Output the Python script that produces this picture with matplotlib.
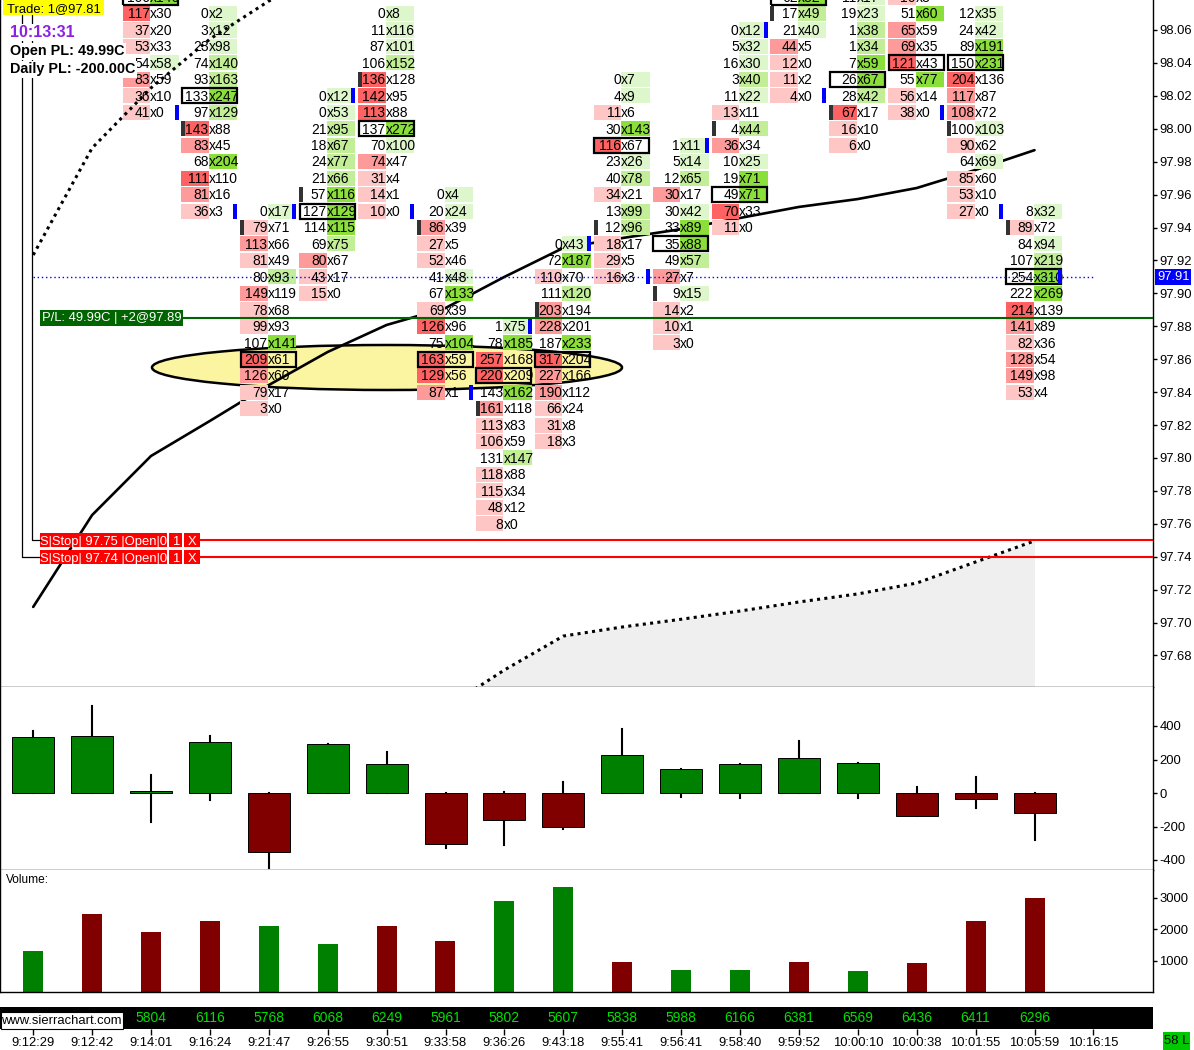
import matplotlib
matplotlib.use("Agg")
import matplotlib.pyplot as plt
from matplotlib.patches import Rectangle, Ellipse
from matplotlib import transforms
import numpy as np

plt.rcParams['font.family'] = ['Liberation Sans', 'DejaVu Sans']

# ---------------------------------------------------------------- DATA
TIME_LABELS = ["9:12:29", "9:12:42", "9:14:01", "9:16:24", "9:21:47", "9:26:55",
               "9:30:51", "9:33:58", "9:36:26", "9:43:18", "9:55:41", "9:56:41",
               "9:58:40", "9:59:52", "10:00:10", "10:00:38", "10:01:55", "10:05:59",
               "10:16:15"]
BAR_TOTALS = [None, None, 5804, 6116, 5768, 6068, 6249, 5961, 5802, 5607,
              5838, 5988, 6166, 6381, 6569, 6436, 6411, 6296]
VOLUME = [1300, 2480, 1905, 2254, 2095, 1524, 2095, 1619, 2889, 3333,
          952, 698, 698, 952, 667, 920, 2254, 2984]
BAR_OPEN = [98.12, 98.15, 98.12, 98.00, 97.94, 97.96, 98.03, 97.94, 97.83, 97.89,
            97.94, 97.90, 98.00, 98.07, 98.01, 98.09, 98.00, 97.94]
BAR_CLOSE = [98.15, 98.13, 98.01, 97.95, 97.95, 98.02, 97.95, 97.84, 97.88, 97.93,
             97.91, 97.99, 98.06, 98.02, 98.09, 98.01, 97.95, 97.91]

DELTA_OPEN = [0, 0, 0, 0, 0, 0, 0, 0, 0, 0, 0, 0, 0, 0, 0, 0, 0, 0]
DELTA_CLOSE = [334, 340, 10, 305, -352, 293, 173, -304, -161, -203,
               227, 143, 173, 209, 179, -137, -36, -120]
DELTA_HIGH = [370, 519, 107, 340, 0, 293, 245, 0, 6, 66,
              382, 143, 173, 310, 179, 36, 96, 0]
DELTA_LOW = [0, 0, -173, -42, -448, 0, 0, -328, -310, -215,
             0, -24, -30, 0, -30, -137, -90, -281]

MID_LINE = [97.7095, 97.7653, 97.8012, 97.8225, 97.8443, 97.8644, 97.8808, 97.8911,
            97.9100, 97.9276, 97.9336, 97.9390, 97.9458, 97.9525, 97.9573, 97.9640,
            97.9750, 97.9870]
UPPER_BAND = [97.9233, 97.9883, 98.0248, 98.0545, 98.0776, 98.0950, np.nan, np.nan,
              np.nan, np.nan, np.nan, np.nan, np.nan, np.nan, np.nan, np.nan, np.nan, np.nan]
LOWER_BAND = [np.nan, np.nan, np.nan, np.nan, np.nan, np.nan, 97.620, 97.648,
              97.6712, 97.6918, 97.6973, 97.7020, 97.7070, 97.7125, 97.7174, 97.7240,
              97.7368, 97.7496]

FP_TOP = [None, None, 98.08, 98.07, 97.95, 98.02, 98.07, 97.96, 97.88, 97.93,
          98.03, 97.99, 98.06, 98.08, 98.08, 98.08, 98.07, 97.95]
FP_BID = [
    [], [],
    [100, 117, 37, 53, 54, 83, 36, 41],
    [0, 3, 23, 74, 93, 133, 97, 143, 83, 68, 111, 81, 36],
    [0, 79, 113, 81, 80, 149, 78, 99, 107, 209, 126, 79, 3],
    [0, 0, 21, 18, 24, 21, 57, 127, 114, 69, 80, 43, 15],
    [0, 11, 87, 106, 136, 142, 113, 137, 70, 74, 31, 14, 10],
    [0, 20, 86, 27, 52, 41, 67, 69, 126, 75, 163, 129, 87],
    [1, 78, 257, 220, 143, 161, 113, 106, 131, 118, 115, 48, 8],
    [0, 72, 110, 111, 203, 228, 187, 317, 227, 190, 66, 31, 18],
    [0, 4, 11, 30, 116, 23, 40, 34, 13, 12, 18, 29, 16],
    [1, 5, 12, 30, 30, 33, 35, 49, 27, 9, 14, 10, 3],
    [0, 5, 16, 3, 11, 13, 4, 36, 10, 19, 49, 70, 11],
    [62, 17, 21, 44, 12, 11, 4],
    [11, 19, 1, 1, 7, 26, 28, 67, 16, 6],
    [16, 51, 65, 69, 121, 55, 56, 38],
    [12, 24, 89, 150, 204, 117, 108, 100, 90, 64, 85, 53, 27],
    [8, 89, 84, 107, 254, 222, 214, 141, 82, 128, 149, 53],
]
FP_ASK = [
    [], [],
    [146, 30, 20, 33, 58, 59, 10, 0],
    [2, 12, 98, 140, 163, 247, 129, 88, 45, 204, 110, 16, 3],
    [17, 71, 66, 49, 93, 119, 68, 93, 141, 61, 60, 17, 0],
    [12, 53, 95, 67, 77, 66, 116, 129, 115, 75, 67, 17, 0],
    [8, 116, 101, 152, 128, 95, 88, 272, 100, 47, 4, 1, 0],
    [4, 24, 39, 5, 46, 48, 133, 39, 96, 104, 59, 56, 1],
    [75, 185, 168, 209, 162, 118, 83, 59, 147, 88, 34, 12, 0],
    [43, 187, 70, 120, 194, 201, 233, 204, 166, 112, 24, 8, 3],
    [7, 9, 6, 143, 67, 26, 78, 21, 99, 96, 17, 5, 3],
    [11, 14, 65, 17, 42, 89, 88, 57, 7, 15, 2, 1, 0],
    [12, 32, 30, 40, 22, 11, 44, 34, 25, 71, 71, 33, 0],
    [82, 49, 40, 5, 0, 2, 0],
    [17, 23, 38, 34, 59, 67, 42, 17, 10, 0],
    [8, 60, 59, 35, 43, 77, 14, 0],
    [35, 42, 191, 231, 136, 87, 72, 103, 62, 69, 60, 10, 0],
    [32, 72, 94, 219, 310, 269, 139, 89, 36, 54, 98, 4],
]

PRICE_TICKS = [98.06, 98.04, 98.02, 98.00, 97.98, 97.96, 97.94, 97.92, 97.90, 97.88,
               97.86, 97.84, 97.82, 97.80, 97.78, 97.76, 97.74, 97.72, 97.70, 97.68]
DELTA_TICKS = [400, 200, 0, -200, -400]
VOLUME_TICKS = [1000, 2000, 3000]
TICK_SIZE = 0.01
LAST_PRICE = 97.91
POSITION_PRICE = 97.885
POSITION_LABEL = "P/L: 49.99C | +2@97.89"
STOP_PRICES = [97.75, 97.74]
TRADE_TEXT = "Trade: 1@97.81"
CLOCK_TEXT = "10:13:31"
OPEN_PL_TEXT = "Open PL: 49.99C"
DAILY_PL_TEXT = "Daily PL: -200.00C"

# ---------------------------------------------------------------- LAYOUT
W, H = 1194, 1050
PLOT_R = 1153
MAIN_B = 687
CANDLE_B = 870
VOL_B = 992
BAND_T, BAND_B = 1007, 1029
X0_PX = 33.2
BAR_PX = 58.9
Y_REF_PRICE, Y_REF_PX, PX_PER_PRICE = 98.06, 30.0, 1646.0
DELTA_ZERO_PX, DELTA_PER_PX = 793.0, 200 / 33.5
VOL_PER_PX = 1000 / 31.5
FS = 9.4
FS_FP = 10.0

RED = ['#FFC6C6', '#FF9A9A', '#FF6262']
GREEN = ['#DDF6CC', '#C2EE98', '#8ADF3A']
UP_C, DN_C = '#008000', '#800000'


def bw(px):
    return px / BAR_PX


def bx(px):
    return (px - X0_PX) / BAR_PX


def ph(px):
    return px / PX_PER_PRICE


def price_px(p):
    return Y_REF_PX + (Y_REF_PRICE - p) * PX_PER_PRICE


def level(v, vmax):
    r = v / vmax if vmax else 0
    return 2 if r >= 0.75 else (1 if r >= 0.5 else 0)


fig = plt.figure(figsize=(W / 100, H / 100), dpi=100)
fig.patch.set_facecolor('white')


def add_px_axes(x0, y0, x1, y1, **kw):
    return fig.add_axes([x0 / W, 1 - y1 / H, (x1 - x0) / W, (y1 - y0) / H], **kw)


XL = (-X0_PX / BAR_PX, (PLOT_R - X0_PX) / BAR_PX)
n_bars = len(VOLUME)
xs = np.arange(n_bars)


def style_axes(a):
    a.set_xlim(*XL)
    a.set_xticks([])
    a.spines['top'].set_visible(False)
    for s in ['left', 'right', 'bottom']:
        a.spines[s].set_linewidth(1.0)
        a.spines[s].set_color('black')
    a.yaxis.tick_right()
    a.tick_params(axis='y', direction='out', length=3, width=1, pad=1.5,
                  labelsize=FS, colors='black')


# ---------------------------------------------------------------- MAIN PANEL
ax = add_px_axes(0, 0, PLOT_R, MAIN_B)
style_axes(ax)
ax.set_ylim(Y_REF_PRICE - (MAIN_B - Y_REF_PX) / PX_PER_PRICE,
            Y_REF_PRICE + Y_REF_PX / PX_PER_PRICE)
ax.set_yticks(PRICE_TICKS)
ax.set_yticklabels([f"{v:.2f}" for v in PRICE_TICKS])

ybot = ax.get_ylim()[0]
lower = np.array(LOWER_BAND)
ax.fill_between(xs, lower, ybot, where=~np.isnan(lower), color='#EFEFEF', lw=0, zorder=0.5)

ax.add_patch(Ellipse((bx(387), Y_REF_PRICE - (367.5 - Y_REF_PX) / PX_PER_PRICE),
                     bw(470), ph(45), fc='#FBF4A0', ec='black', lw=1.8, zorder=1))

ax.plot(xs, MID_LINE, color='black', lw=1.9, zorder=2, solid_capstyle='round')

ch = ph(15.0)
base_off = ph(4.8)
for i, top in enumerate(FP_TOP):
    if top is None:
        continue
    bids, asks = FP_BID[i], FP_ASK[i]
    n = len(bids)
    prices = [round(top - k * TICK_SIZE, 2) for k in range(n)]
    bmax, amax = max(bids), max(asks)
    tot = [b + a for b, a in zip(bids, asks)]
    poc = n - 1 - int(np.argmax(tot[::-1]))
    div = i - bw(1.0)
    left = i - bw(28.5)
    right = i + bw(27.5)
    for k, (p, b, a) in enumerate(zip(prices, bids, asks)):
        if b > a:
            ax.add_patch(Rectangle((left, p - ch / 2), div - left, ch,
                                   fc=RED[level(b, bmax)], ec='none', zorder=3))
        elif a > b:
            ax.add_patch(Rectangle((div, p - ch / 2), right - div, ch,
                                   fc=GREEN[level(a, amax)], ec='none', zorder=3))
        ax.text(div - bw(0.3), p - base_off, str(b), ha='right', va='baseline',
                fontsize=FS_FP, zorder=4, clip_on=True)
        ax.text(div, p - base_off, 'x' + str(a), ha='left', va='baseline',
                fontsize=FS_FP, zorder=4, clip_on=True)
    ax.add_patch(Rectangle((left + bw(0.5), prices[poc] - ch / 2), right - left - bw(1), ch,
                           fill=False, ec='black', lw=1.6, zorder=4.5))
    ax.add_patch(Rectangle((left, BAR_OPEN[i] - ch / 2), bw(4), ch,
                           fc='#333333', ec='none', zorder=4.6))
    ax.add_patch(Rectangle((right - bw(4), BAR_CLOSE[i] - ch / 2), bw(4), ch,
                           fc='#0000FF', ec='none', zorder=4.6))

ax.plot(xs, UPPER_BAND, color='black', lw=2.2, ls=(0, (1, 1.4)), zorder=5)
ax.plot(xs, LOWER_BAND, color='black', lw=2.2, ls=(0, (1, 1.4)), zorder=5)

# last price dotted line
ax.plot([0, n_bars], [LAST_PRICE, LAST_PRICE], color='#0000FF', lw=1.0,
        ls=(0, (1, 2)), zorder=5)
tr_fx = transforms.blended_transform_factory(fig.transFigure, ax.transData)
ax.text(1157 / W, LAST_PRICE, f"{LAST_PRICE:.2f}", transform=tr_fx, ha='left',
        va='center', fontsize=FS, color='white', clip_on=False, zorder=10,
        bbox=dict(fc='#0000FF', ec='none', pad=1.2))

# position line + label (box sized by its text)
ax.plot([bx(60), XL[1]], [POSITION_PRICE, POSITION_PRICE], color='#006400', lw=1.5, zorder=5)
ax.text(bx(42), POSITION_PRICE, POSITION_LABEL, ha='left', va='center',
        color='white', fontsize=FS, zorder=7,
        bbox=dict(fc='#006400', ec='none', pad=1.3))

# stop orders
for sp in STOP_PRICES:
    ax.plot([bx(200), XL[1]], [sp, sp], color='#FF0000', lw=1.5, zorder=5)
    segs = [(40, 127, f"S|Stop| {sp:.2f} |Open|0"), (169, 13, "1"), (184, 16, "X")]
    for x0, wpx, txt in segs:
        ax.add_patch(Rectangle((bx(x0), sp - ph(7)), bw(wpx), ph(14),
                               fc='#FF0000', ec='none', zorder=6))
        ax.text(bx(x0 + wpx / 2), sp - base_off, txt, ha='center', va='baseline',
                color='white', fontsize=FS, zorder=7)

# ---------------------------------------------------------------- DELTA CANDLES
axc = add_px_axes(0, MAIN_B, PLOT_R, CANDLE_B)
style_axes(axc)
axc.set_ylim(-(CANDLE_B - DELTA_ZERO_PX) * DELTA_PER_PX, (DELTA_ZERO_PX - MAIN_B) * DELTA_PER_PX)
axc.set_yticks(DELTA_TICKS)
axc.set_yticklabels([str(v) for v in DELTA_TICKS])
for i in range(n_bars):
    o, c = DELTA_OPEN[i], DELTA_CLOSE[i]
    col = UP_C if c >= o else DN_C
    axc.plot([i, i], [DELTA_LOW[i], DELTA_HIGH[i]], color='black', lw=1.5, zorder=1)
    axc.add_patch(Rectangle((i - bw(21), min(o, c)), bw(42), max(abs(c - o), 8),
                            fc=col, ec='black', lw=0.7, zorder=2))

# ---------------------------------------------------------------- VOLUME
axv = add_px_axes(0, CANDLE_B, PLOT_R, VOL_B)
style_axes(axv)
axv.set_ylim(0, (VOL_B - CANDLE_B) * VOL_PER_PX)
axv.set_yticks(VOLUME_TICKS)
axv.set_yticklabels([str(v) for v in VOLUME_TICKS])
vcols = [UP_C if BAR_CLOSE[i] >= BAR_OPEN[i] else DN_C for i in range(n_bars)]
axv.bar(xs, VOLUME, width=bw(20), color=vcols, zorder=2)

# ---------------------------------------------------------------- BOTTOM BAND + TIME AXIS
axb = add_px_axes(0, BAND_T, PLOT_R, BAND_B)
axb.set_xlim(*XL)
axb.set_ylim(0, 1)
axb.set_facecolor('black')
for s in axb.spines.values():
    s.set_visible(False)
axb.set_yticks([])
axb.set_xticks(np.arange(len(TIME_LABELS)))
axb.set_xticklabels(TIME_LABELS)
axb.tick_params(axis='x', direction='out', length=4, width=1, pad=1.5,
                labelsize=FS, colors='black')
for i, v in enumerate(BAR_TOTALS):
    if v is not None:
        axb.text(i, 0.5, str(v), ha='center', va='center', color='#00E000', fontsize=FS + 0.6)

# ---------------------------------------------------------------- OVERLAY (pixel coords)
ov = fig.add_axes([0, 0, 1, 1], zorder=20)
ov.set_xlim(0, W)
ov.set_ylim(H, 0)
ov.axis('off')
ov.patch.set_alpha(0)

ov.plot([32, 32, 40], [15, price_px(STOP_PRICES[0]), price_px(STOP_PRICES[0])],
        color='black', lw=0.9, zorder=1)
ov.plot([22, 22, 40], [15, price_px(STOP_PRICES[1]), price_px(STOP_PRICES[1])],
        color='black', lw=0.9, zorder=1)

ov.add_patch(Rectangle((3, 0), 101, 15, fc='#FFFF00', ec='none', zorder=2))
ov.text(7, 12, TRADE_TEXT, ha='left', va='baseline', fontsize=FS, zorder=3)
ov.text(10, 37, CLOCK_TEXT, ha='left', va='baseline', fontsize=11.5, fontweight='bold',
        color='#8A22E0', zorder=3, bbox=dict(fc='white', ec='none', pad=1.0))
ov.text(10, 55.5, OPEN_PL_TEXT, ha='left', va='baseline', fontsize=10.4, fontweight='bold',
        zorder=3, bbox=dict(fc='white', ec='none', pad=1.0))
ov.text(10, 73.5, DAILY_PL_TEXT, ha='left', va='baseline', fontsize=10.4, fontweight='bold',
        zorder=3, bbox=dict(fc='white', ec='none', pad=1.0))

ov.add_patch(Rectangle((0.5, 1012), 122.5, 16.5, fc='white', ec='black', lw=0.8, zorder=2))
ov.text(61.5, 1020.5, "www.sierrachart.com", ha='center', va='center', fontsize=FS, zorder=3)

ov.add_patch(Rectangle((1163, 1032), 27, 18, fc='#00C800', ec='none', zorder=2))
ov.text(1176.5, 1041.5, "58 L", ha='center', va='center', fontsize=FS, zorder=3)

ov.text(6, 880, "Volume:", ha='left', va='center', fontsize=8.6, zorder=3)

fig.savefig("out.png", dpi=100)
